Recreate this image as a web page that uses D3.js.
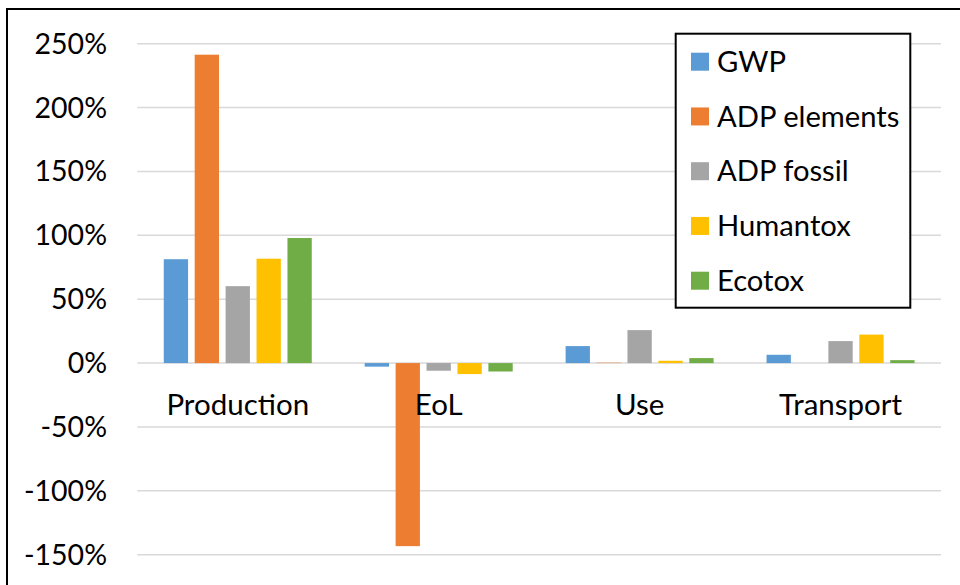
<!DOCTYPE html>
<html><head><meta charset="utf-8">
<script src="https://cdn.jsdelivr.net/npm/d3@7"></script>
<style>body{margin:0;background:#fff}svg{display:block}text{font-family:Lato,"Open Sans",sans-serif;fill:#000}</style>
</head><body><svg id="c" width="960" height="585"></svg>
<script>
const categories = ["Production", "EoL", "Use", "Transport"];
const series = ["GWP", "ADP elements", "ADP fossil", "Humantox", "Ecotox"];
const colors = ["#5B9BD5", "#ED7D31", "#A5A5A5", "#FFC000", "#70AD47"];
const gwp = [81.3, -2.8, 13.3, 6.5];
const adpElements = [241.4, -143.3, 0.3, 0];
const adpFossil = [60.2, -6.0, 25.8, 17.2];
const humantox = [81.7, -8.6, 1.8, 22.3];
const ecotox = [97.9, -6.6, 3.9, 2.3];
const values = [gwp, adpElements, adpFossil, humantox, ecotox];
const yTicks = [-150, -100, -50, 0, 50, 100, 150, 200, 250];

const svg = d3.select("#c");
const left = 137.3, right = 941, y250 = 43.7, yM150 = 554.7;
const y = d3.scaleLinear().domain([-150, 250]).range([yM150, y250]);
const x0 = d3.scaleBand().domain(categories).range([left, right]).padding(0);
const groupW = 148;
const off = (x0.bandwidth() - groupW) / 2;
const x1 = d3.scaleBand().domain(series).range([off, off + groupW]).paddingInner(0.214).paddingOuter(0);

// chart border
svg.append("rect").attr("x", 7).attr("y", 9).attr("width", 1100).attr("height", 1100)
  .attr("fill", "none").attr("stroke", "#000").attr("stroke-width", 2);

// gridlines
svg.append("g").selectAll("line").data(yTicks).join("line")
  .attr("x1", left).attr("x2", right)
  .attr("y1", d => y(d)).attr("y2", d => y(d))
  .attr("stroke", "#d9d9d9").attr("stroke-width", 1.5);

// y axis labels
svg.append("g").selectAll("text").data(yTicks).join("text")
  .attr("x", 107).attr("y", d => y(d)).attr("dy", "0.35em")
  .attr("text-anchor", "end").attr("font-size", 28.5)
  .text(d => d + "%");

// bars
const data = [];
categories.forEach((c, ci) => series.forEach((s, si) => data.push({c, s, si, v: values[si][ci]})));
svg.append("g").selectAll("rect").data(data).join("rect")
  .attr("x", d => x0(d.c) + x1(d.s))
  .attr("width", x1.bandwidth())
  .attr("y", d => Math.min(y(d.v), y(0)))
  .attr("height", d => Math.abs(y(d.v) - y(0)))
  .attr("fill", d => colors[d.si]);

// category labels
svg.append("g").selectAll("text").data(categories).join("text")
  .attr("x", d => x0(d) + x0.bandwidth() / 2).attr("y", 414.5)
  .attr("text-anchor", "middle").attr("font-size", 29.5)
  .text(d => d);

// legend
const lg = svg.append("g");
lg.append("rect").attr("x", 675.7).attr("y", 33.7).attr("width", 234.6).attr("height", 274)
  .attr("fill", "#fff").attr("stroke", "#000").attr("stroke-width", 2);
const rows = lg.selectAll("g").data(series).join("g")
  .attr("transform", (d, i) => `translate(691,${61.7 + i * 54.75})`);
rows.append("rect").attr("x", 0).attr("y", -9).attr("width", 18).attr("height", 18)
  .attr("fill", (d, i) => colors[i]);
rows.append("text").attr("x", 26).attr("y", 0).attr("dy", "0.35em").attr("font-size", 29.2).text(d => d);
</script></body></html>
